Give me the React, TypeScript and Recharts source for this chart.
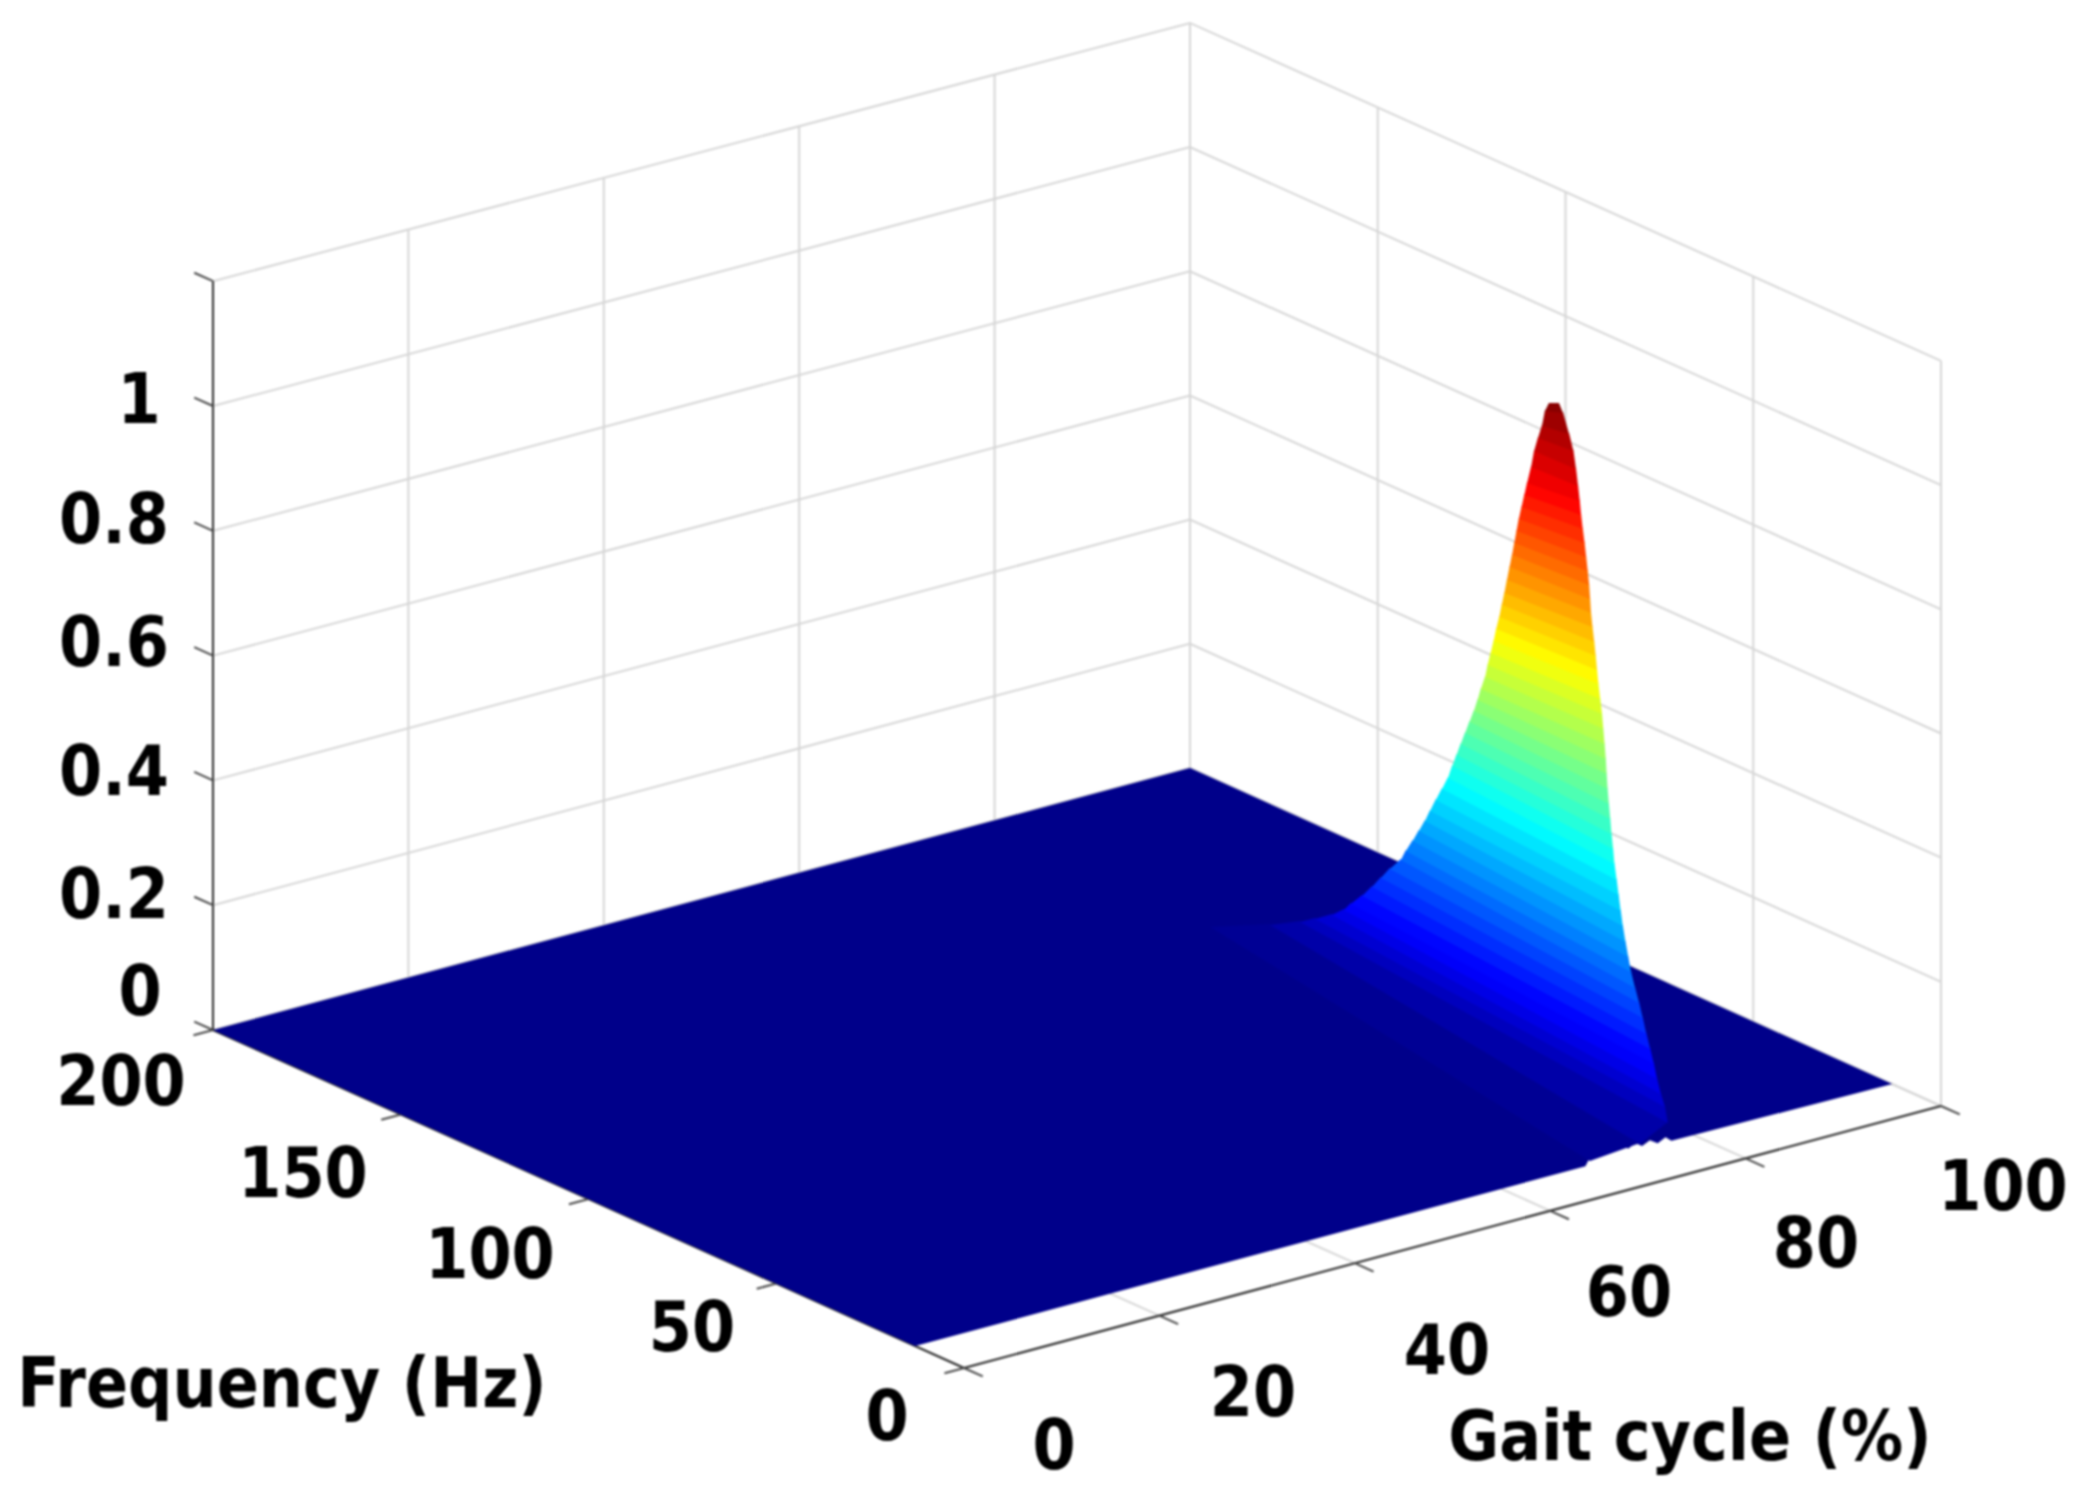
import { Area, ComposedChart, LabelList, Line, XAxis, YAxis } from "recharts";

// surface: one contour per amplitude level,
// each running from a far flank point to a near flank point
const levels = [
  1, 0.98, 0.96, 0.94, 0.92, 0.9, 0.88, 0.86, 0.84, 0.82, 0.8, 0.78, 0.76, 0.74, 0.72, 0.7, 0.68,
  0.66, 0.64, 0.62, 0.6, 0.58, 0.56, 0.54, 0.52, 0.5, 0.48, 0.46, 0.44, 0.42, 0.4, 0.38, 0.36, 0.34,
  0.32, 0.3, 0.28, 0.26, 0.24, 0.22, 0.2, 0.18, 0.16, 0.14, 0.12, 0.1, 0.08, 0.06, 0.04, 0.02, 0,
];
const farGait = [
  86.12, 86.64, 86.1, 85.89, 85.57, 84.88, 84.12, 84.03, 83.9, 83.81, 83.73, 83.66, 83.58, 83.48,
  83.25, 82.99, 82.91, 82.81, 82.69, 82.58, 82.47, 82.35, 82.25, 82.04, 82.05, 82.02, 81.95, 81.89,
  81.79, 81.74, 81.69, 81.48, 81.31, 81.12, 80.95, 80.99, 80.96, 80.9, 80.82, 81.0, 80.79, 80.72,
  80.64, 80.48, 80.41, 80.89, 81.19, 81.31, 81.69, 81.12, 78.77,
];
const farFreq = [
  68.3, 70.7, 70.1, 70.6, 70.8, 69.8, 68.9, 69.4, 69.8, 70.3, 70.7, 71.1, 71.5, 71.9, 72.0, 72.0,
  72.5, 72.9, 73.4, 73.8, 74.3, 74.8, 75.2, 75.8, 76.7, 77.6, 78.6, 79.6, 80.5, 81.5, 82.5, 83.1,
  84.25, 85.4, 86.5, 87.95, 89.5, 91.0, 92.6, 94.4, 96.8, 99.0, 101.15, 103.4, 106.2, 109.3, 113.25,
  118.1, 123.1, 129.6, 139.4,
];
const nearGait = [
  86.76, 87.52, 86.68, 86.32, 85.7, 85.18, 84.93, 84.8, 84.7, 84.58, 84.47, 84.36, 84.24, 84.07,
  83.93, 83.81, 83.57, 83.45, 83.3, 83.17, 82.93, 82.69, 82.42, 82.13, 81.85, 81.55, 81.25, 80.98,
  80.7, 80.42, 80.17, 79.9, 79.54, 79.3, 78.94, 78.71, 78.39, 78.21, 78.01, 77.77, 77.67, 77.54,
  77.29, 77.15, 77.03, 76.89, 76.78, 76.97, 76.65, 73.65, 69.79,
];
const nearFreq = [
  67.3, 68.2, 64.4, 62.3, 60.0, 58.1, 57.0, 56.3, 55.6, 54.8, 54.1, 53.4, 52.7, 52.0, 51.4, 50.7,
  49.6, 48.9, 48.15, 47.45, 46.35, 45.24, 44.2, 43.1, 42.05, 41.04, 40.0, 38.96, 37.86, 36.81,
  35.73, 34.67, 33.14, 32.0, 30.5, 29.35, 27.8, 26.6, 25.34, 23.64, 22.3, 21.0, 19.4, 18.0, 16.7,
  15.5, 14.2, 13.6, 12.0, 11.6, 14.9,
];

// ragged stretch of the surface's front edge
const edgeGait = [77.4, 76.8, 76, 75.2, 74.4, 73.7, 73, 72.2, 71.6, 70.8, 70, 69.4, 68.9, 68.6];
const edgeLift = [0.004, 0.012, 0.006, 0.014, 0.008, 0.016, 0.01, 0.018, 0.012, 0.02, 0.012, 0.022, 0.008, 0];

const gaitTicks = [0, 20, 40, 60, 80, 100];
const freqTicks = [0, 50, 100, 150, 200];
const ampTicks = [0, 0.2, 0.4, 0.6, 0.8, 1, 1.2];
const surfaceFreqMin = 13;

const ampLabels = ["0", "0.2", "0.4", "0.6", "0.8", "1"];
const freqLabels = ["0", "50", "100", "150", "200"];
const gaitLabels = ["0", "20", "40", "60", "80", "100"];

const WIDTH = 2085;
const HEIGHT = 1500;

// matlab style view of the box
function project(gait: number, freq: number, amp: number) {
  const u = 200 - freq;
  return {
    x: 213 + 9.77 * gait + 3.755 * u,
    y: 1030 - 2.62 * gait + 1.69 * u - 624 * amp,
  };
}

// the walls lean in a touch towards the back of the box
const wall = (gait: number, freq: number, amp: number) =>
  project(gait, freq, amp * (1 - 0.00005 * gait));

function jet(z: number) {
  const c = (v: number) => Math.round(255 * Math.max(0, Math.min(1, v)));
  const r = c(Math.min(4 * z - 1.5, -4 * z + 4.5));
  const g = c(Math.min(4 * z - 0.5, -4 * z + 3.5));
  const b = c(Math.min(4 * z + 0.54, -4 * z + 2.5));
  return `rgb(${r},${g},${b})`;
}

type Pt = { x: number; y: number };

// turn an x-monotone outline into the [low, high] rows an Area wants
function outlineRows(points: Pt[]) {
  const xs = Array.from(new Set(points.map((p) => p.x))).sort((a, b) => a - b);
  return xs.map((x) => {
    const ys: number[] = [];
    points.forEach((p, i) => {
      const q = points[(i + 1) % points.length];
      if (x < Math.min(p.x, q.x) || x > Math.max(p.x, q.x)) return;
      if (p.x === q.x) ys.push(p.y, q.y);
      else ys.push(p.y + ((q.y - p.y) * (x - p.x)) / (q.x - p.x));
    });
    return { x, range: [Math.min(...ys), Math.max(...ys)] };
  });
}

const floorOutline = outlineRows([
  project(0, 200, 0),
  project(100, 200, 0),
  project(100, surfaceFreqMin, 0),
  ...edgeGait.map((g, i) => project(g, surfaceFreqMin, edgeLift[i])),
  project(0, surfaceFreqMin, 0),
]);

// low bands first, each one lapping a pixel over the band below it
const bands = levels
  .slice(0, -1)
  .map((z, i) => {
    const lower = levels[i + 1];
    const a = project(farGait[i], farFreq[i], z);
    const b = project(nearGait[i], nearFreq[i], z);
    const c = project(nearGait[i + 1], nearFreq[i + 1], lower);
    const d = project(farGait[i + 1], farFreq[i + 1], lower);
    return {
      key: `band-${z}`,
      color: jet((z + lower) / 2),
      rows: outlineRows([a, b, { x: c.x, y: c.y + 1 }, { x: d.x, y: d.y + 1 }]),
    };
  })
  .reverse();

const gridLines = [
  ...ampTicks.map((a) => [wall(0, 200, a), wall(100, 200, a), wall(100, 0, a)]),
  ...gaitTicks.map((g) => [wall(g, 200, 0), wall(g, 200, 1.2)]),
  ...freqTicks.map((f) => [wall(100, f, 0), wall(100, f, 1.2)]),
  ...gaitTicks.map((g) => [project(g, 200, 0), project(g, 0, 0)]),
  ...freqTicks.map((f) => [project(0, f, 0), project(100, f, 0)]),
];

const axisLines = [
  [project(0, 200, 0), project(0, 200, 1.2)],
  [project(0, 200, 0), project(0, 0, 0)],
  [project(0, 0, 0), project(100, 0, 0)],
];

const tickMarks = [
  ...ampTicks.map((a) => [project(0, 200, a), project(0, 205, a)]),
  ...freqTicks.map((f) => [project(0, f, 0), project(-2, f, 0)]),
  ...gaitTicks.map((g) => [project(g, 0, 0), project(g, -5, 0)]),
];

const ampLabelAnchors = [
  [140, 991],
  [114, 894],
  [114, 771],
  [114, 642],
  [114, 519],
  [139, 399],
];
const freqLabelAnchors = [
  [887, 1416],
  [692, 1327],
  [490, 1254],
  [303, 1173],
  [121, 1081],
];
const gaitLabelAnchors = [
  [1054, 1445],
  [1253, 1392],
  [1447, 1350],
  [1629, 1292],
  [1816, 1243],
  [2003, 1186],
];

const tickLabelRows = [
  ...ampLabels.map((text, i) => ({ x: ampLabelAnchors[i][0], y: ampLabelAnchors[i][1], text })),
  ...freqLabels.map((text, i) => ({ x: freqLabelAnchors[i][0], y: freqLabelAnchors[i][1], text })),
  ...gaitLabels.map((text, i) => ({ x: gaitLabelAnchors[i][0], y: gaitLabelAnchors[i][1], text })),
];
const titleRows = [
  { x: 282, y: 1383, text: "Frequency (Hz)" },
  { x: 1690, y: 1436, text: "Gait cycle (%)" },
];

function ChartText(props: any) {
  return (
    <text
      x={props.x}
      y={props.y}
      textAnchor="middle"
      dominantBaseline="central"
      fontFamily="'DejaVu Sans Condensed', 'DejaVu Sans', sans-serif"
      fontStretch="condensed"
      fontWeight={700}
      fontSize={69}
      fill="#000"
    >
      {props.value}
    </text>
  );
}

export default function App() {
  return (
    <div
      style={{
        position: "absolute",
        left: 0,
        top: 0,
        width: WIDTH,
        height: HEIGHT,
        background: "#fff",
        filter: "blur(0.8px)", // the source figure is a soft raster
      }}
    >
      <ComposedChart width={WIDTH} height={HEIGHT} margin={{ top: 0, right: 0, bottom: 0, left: 0 }}>
        <XAxis type="number" dataKey="x" domain={[0, WIDTH]} hide allowDataOverflow />
        <YAxis type="number" domain={[0, HEIGHT]} reversed hide allowDataOverflow />

        {gridLines.map((pts, i) => (
          <Line
            key={`grid-${i}`}
            data={pts}
            dataKey="y"
            stroke="#d6d6d6"
            strokeWidth={2}
            dot={false}
            isAnimationActive={false}
            zIndex={1}
          />
        ))}
        {axisLines.map((pts, i) => (
          <Line
            key={`axis-${i}`}
            data={pts}
            dataKey="y"
            stroke="#2e2e2e"
            strokeWidth={2}
            dot={false}
            isAnimationActive={false}
            zIndex={2}
          />
        ))}
        {tickMarks.map((pts, i) => (
          <Line
            key={`tick-${i}`}
            data={pts}
            dataKey="y"
            stroke="#4a4a4a"
            strokeWidth={2}
            dot={false}
            isAnimationActive={false}
            zIndex={2}
          />
        ))}

        <Area
          data={floorOutline}
          dataKey="range"
          type="linear"
          stroke="none"
          fill={jet(0)}
          fillOpacity={1}
          dot={false}
          isAnimationActive={false}
          zIndex={3}
        />
        {bands.map((band) => (
          <Area
            key={band.key}
            data={band.rows}
            dataKey="range"
            type="linear"
            stroke="none"
            fill={band.color}
            fillOpacity={1}
            dot={false}
            isAnimationActive={false}
            zIndex={4}
          />
        ))}

        <Line data={tickLabelRows} dataKey="y" stroke="none" dot={false} isAnimationActive={false} zIndex={5}>
          <LabelList dataKey="text" content={ChartText} />
        </Line>
        <Line data={titleRows} dataKey="y" stroke="none" dot={false} isAnimationActive={false} zIndex={5}>
          <LabelList dataKey="text" content={ChartText} />
        </Line>
      </ComposedChart>
    </div>
  );
}
